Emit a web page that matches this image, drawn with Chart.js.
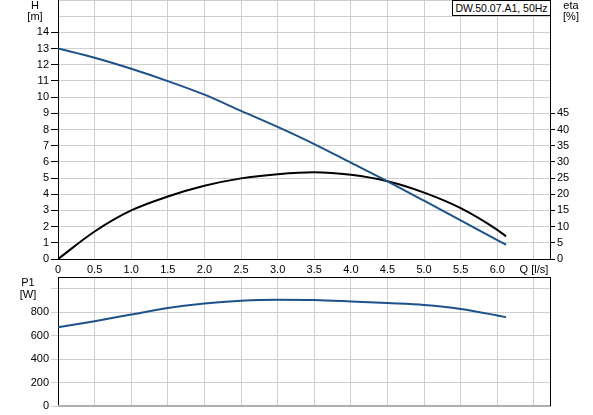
<!DOCTYPE html>
<html>
<head>
<meta charset="utf-8">
<script src="https://cdn.jsdelivr.net/npm/chart.js@4.4.0/dist/chart.umd.min.js"></script>
<style>
  body { margin: 0; background: #fff; font-family: "Liberation Sans", Arial, sans-serif; }
  #wrap { position: relative; width: 593px; height: 415px; }
  .box { position: absolute; }
  .lbl { position: absolute; font-size: 11px; color: #000; text-align: center; line-height: 11px; }
  #legend { position: absolute; left: 452px; top: 0; width: 97px; height: 14px; border: 1px solid #000;
            background: #fff; font-size: 10.5px; line-height: 14px; text-align: center; white-space: nowrap;
            box-sizing: content-box; }
</style>
</head>
<body>
<div id="wrap">
  <div class="box" style="left:0;top:0;width:593px;height:276px"><canvas id="top"></canvas></div>
  <div class="box" style="left:0;top:276px;width:593px;height:139px"><canvas id="bottom"></canvas></div>
  <div class="lbl" style="left:20px;top:0;width:30px">H</div>
  <div class="lbl" style="left:20px;top:11px;width:30px">[m]</div>
  <div class="lbl" style="left:556px;top:0;width:30px">eta</div>
  <div class="lbl" style="left:556px;top:11px;width:30px">[%]</div>
  <div class="lbl" style="left:13px;top:277px;width:30px">P1</div>
  <div class="lbl" style="left:13px;top:289px;width:30px">[W]</div>
  <div id="legend">DW.50.07.A1, 50Hz</div>
</div>
<script>
// flow points [l/s]
const flow = [0, 0.5, 1.0, 1.5, 2.0, 2.5, 3.0, 3.5, 4.0, 4.5, 5.0, 5.5, 6.0, 6.12];
// head [m]
const head = [13.0, 12.43, 11.75, 10.99, 10.15, 9.15, 8.16, 7.1, 5.95, 4.8, 3.6, 2.38, 1.17, 0.88];
// efficiency [%]
const eta = [0, 8.5, 15.0, 19.3, 22.6, 24.9, 26.2, 26.8, 26.0, 24.0, 20.5, 15.7, 9.0, 7.0];
// input power P1 [W]
const power = [672, 723, 780, 836, 875, 898, 907, 904, 892, 878, 862, 828, 772, 757];

const qMax = 6.72;
const gridCol = '#cfcfcf';

Chart.defaults.font.family = '"Liberation Sans", Arial, sans-serif';
Chart.defaults.font.size = 11;
Chart.defaults.color = '#000';

const pts = ys => flow.map((q, i) => ({ x: q, y: ys[i] }));

function fixW(w) {
  return s => { s.width = w; s.paddingTop = 0; s.paddingBottom = 0; };
}

// draws the black frame lines Chart.js does not draw by itself
const frame = {
  id: 'frame',
  afterDraw(chart, args, opts) {
    const { ctx, chartArea: a } = chart;
    ctx.save();
    ctx.lineWidth = 1;
    ctx.strokeStyle = '#000';
    ctx.beginPath();
    if (opts.top) { ctx.moveTo(a.left, a.top + 0.5); ctx.lineTo(a.right, a.top + 0.5); }
    if (opts.right) { ctx.moveTo(a.right + 0.5, a.top); ctx.lineTo(a.right + 0.5, a.bottom); }
    ctx.stroke();
    if (opts.bottomGrey) {
      ctx.strokeStyle = '#b0b0b0';
      ctx.lineWidth = 2;
      ctx.beginPath();
      ctx.moveTo(a.left, a.bottom);
      ctx.lineTo(a.right, a.bottom);
      ctx.stroke();
    }
    ctx.restore();
  }
};

const xScale = showLabels => ({
  type: 'linear',
  min: 0,
  max: qMax,
  afterFit: s => { s.paddingLeft = 0; s.paddingRight = 0; s.height = showLabels ? 17 : 9; },
  ticks: {
    display: showLabels,
    stepSize: 0.5,
    includeBounds: false,
    padding: 4,
    maxRotation: 0,
    autoSkip: false,
    callback: v => v === 0 ? '0' : (Math.abs(v - 6.5) < 1e-6 ? 'Q [l/s]' : v.toFixed(1))
  },
  grid: { color: gridCol, drawTicks: false },
  border: { color: showLabels ? '#000' : '#b0b0b0', width: 1 }
});

new Chart(document.getElementById('top'), {
  type: 'line',
  data: {
    datasets: [
      { data: pts(head), yAxisID: 'y', borderColor: '#1d5189', borderWidth: 2,
        pointRadius: 0, cubicInterpolationMode: 'monotone' },
      { data: pts(eta), yAxisID: 'eta', borderColor: '#000', borderWidth: 2,
        pointRadius: 0, cubicInterpolationMode: 'monotone' }
    ]
  },
  options: {
    responsive: true,
    maintainAspectRatio: false,
    animation: false,
    layout: { padding: 0 },
    plugins: { legend: { display: false }, tooltip: { enabled: false }, frame: { right: true } },
    scales: {
      x: xScale(true),
      y: {
        position: 'left',
        min: 0, max: 16,
        afterFit: fixW(58),
        ticks: { stepSize: 1, includeBounds: false, padding: 2, autoSkip: false,
                 callback: v => v <= 14 ? String(v) : '' },
        grid: { color: gridCol, tickLength: 7,
                tickColor: c => (c.tick && c.tick.value > 14) ? 'rgba(0,0,0,0)' : '#000' },
        border: { color: '#000' }
      },
      eta: {
        position: 'right',
        min: 0, max: 80,
        afterFit: fixW(43),
        ticks: { stepSize: 5, includeBounds: false, padding: 2, autoSkip: false,
                 callback: v => v <= 45 ? String(v) : '' },
        grid: { drawOnChartArea: false, tickLength: 5,
                tickColor: c => (c.tick && c.tick.value > 45) ? 'rgba(0,0,0,0)' : '#000' },
        border: { color: '#000' }
      }
    }
  },
  plugins: [frame]
});

new Chart(document.getElementById('bottom'), {
  type: 'line',
  data: {
    datasets: [
      { data: pts(power), borderColor: '#1d5189', borderWidth: 2,
        pointRadius: 0, cubicInterpolationMode: 'monotone' }
    ]
  },
  options: {
    responsive: true,
    maintainAspectRatio: false,
    animation: false,
    layout: { padding: { top: 1, right: 43 } },
    plugins: { legend: { display: false }, tooltip: { enabled: false },
               frame: { top: true, right: true, bottomGrey: true } },
    scales: {
      x: xScale(false),
      y: {
        position: 'left',
        min: 0, max: 1100,
        afterFit: fixW(58),
        ticks: { stepSize: 200, includeBounds: false, padding: 2, autoSkip: false,
                 callback: v => v <= 800 ? String(v) : '' },
        grid: { color: gridCol, tickLength: 7 },
        border: { color: '#000' }
      }
    }
  },
  plugins: [frame]
});
</script>
</body>
</html>
